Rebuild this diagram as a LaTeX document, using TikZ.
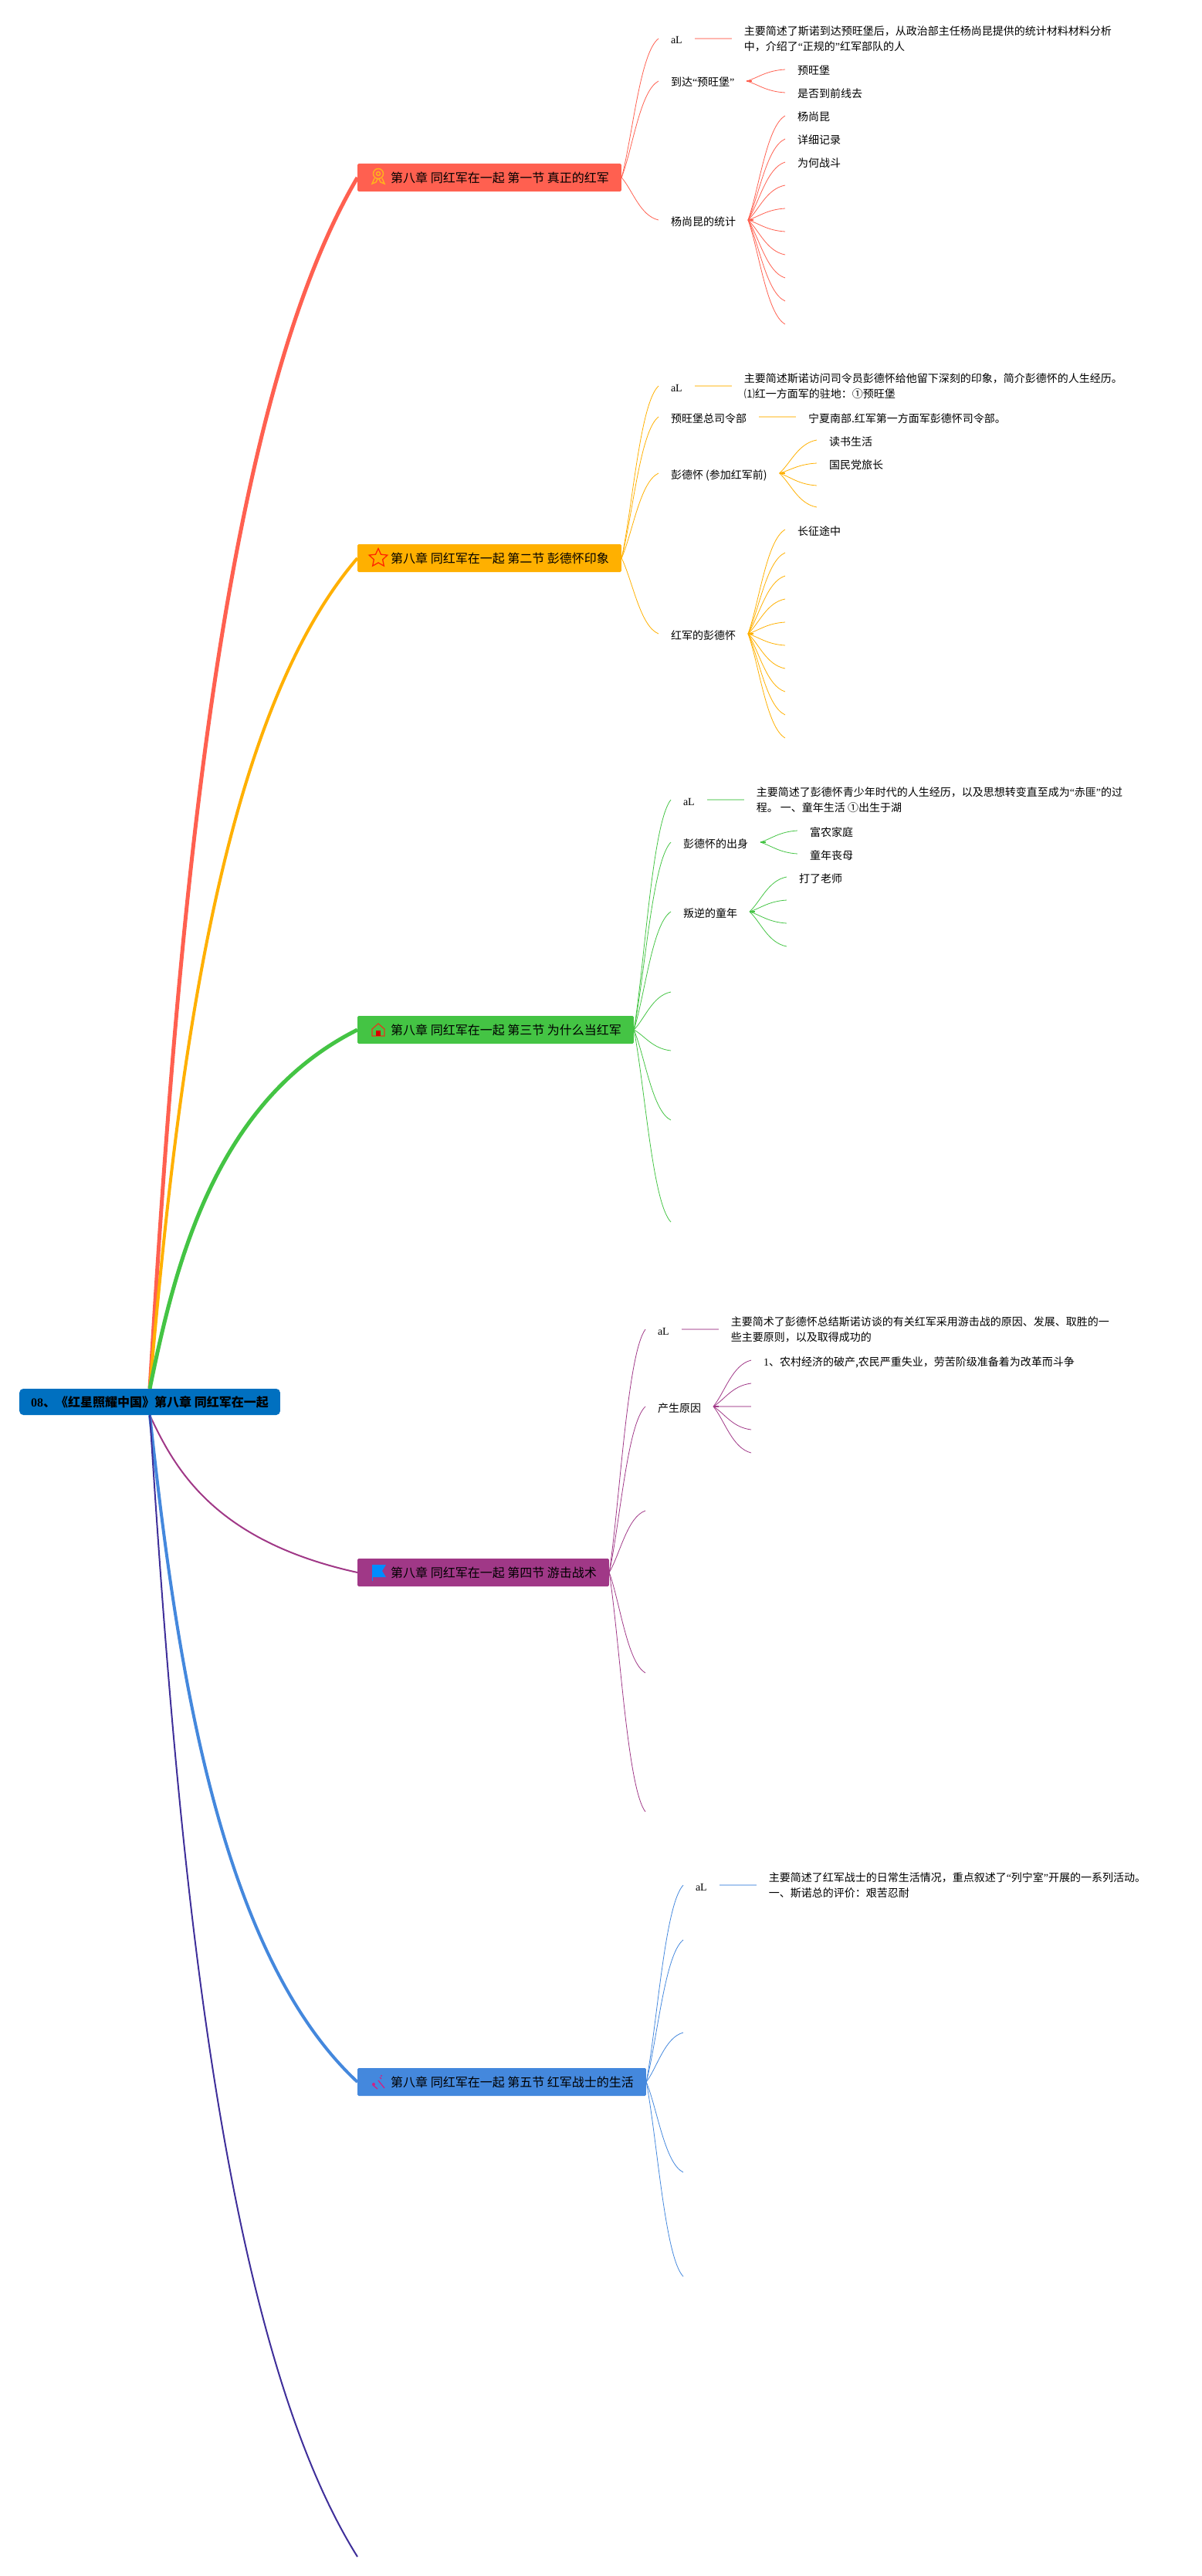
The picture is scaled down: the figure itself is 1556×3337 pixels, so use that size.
\documentclass[tikz,border=0pt]{standalone}
\usepackage{fontspec}
\setmainfont{Liberation Serif}
\newfontfamily\cjk{Noto Sans CJK SC}
\usetikzlibrary{calc,positioning,shapes.geometric}

\definecolor{rootblue}{RGB}{0,112,192}
\definecolor{tonea}{RGB}{255,96,80}
\definecolor{toneb}{RGB}{255,176,0}
\definecolor{tonec}{RGB}{68,196,68}
\definecolor{toned}{RGB}{160,56,135}
\definecolor{tonee}{RGB}{68,136,221}
\definecolor{tonef}{RGB}{63,47,154}
\definecolor{rosette}{RGB}{255,176,30}
\newcommand{\lat}[1]{{\rmfamily #1}}

\tikzset{
  bough/.style={to path={let \p1=(\tikztostart),\p2=(\tikztotarget) in
    .. controls (\x1+.12*\x2-.12*\x1,\y1+.34*\y2-.34*\y1)
    and (\x1+.31*\x2-.31*\x1,\y1+.8*\y2-.8*\y1) .. (\tikztotarget)}},
  twig/.style={to path={let \p1=(\tikztostart),\p2=(\tikztotarget) in
    .. controls (\x1+.3*\x2-.3*\x1,\y1+.3*\y2-.3*\y1)
    and (\x1+.5*\x2-.5*\x1,\y1+.9*\y2-.9*\y1) .. (\tikztotarget)}},
  rootbox/.style={anchor=west,fill=rootblue,rounded corners=5pt,inner xsep=15pt,
    minimum height=34pt,font=\fontsize{16}{20}\selectfont\cjk\bfseries},
  topic/.style={anchor=west,rounded corners=1.5pt,inner xsep=16pt,inner ysep=0pt,
    minimum height=36pt,text=black,font=\fontsize{16}{20}\selectfont\cjk,
    execute at begin node=\hspace*{27pt}},
  leaf/.style={anchor=west,inner sep=0pt,outer xsep=16pt,text=black,
    text height=14pt,text depth=0pt,font=\fontsize{14}{20}\selectfont\cjk},
  longtext/.style={anchor=west,inner sep=0pt,outer xsep=16pt,text=black,align=left,
    font=\fontsize{14}{20}\selectfont\cjk},
  rule/.style={line width=2pt,draw opacity=.45},
  stub/.style={line width=2pt},
  every edge/.append style={line width=.8pt}
}

\begin{document}
\begin{tikzpicture}[x=1pt,y=-1pt]
  \useasboundingbox (0,0) rectangle (1556,3337);

  \node[rootbox] (root) at (25,1816) {\lat{\textbf{08}}、《红星照耀中国》第八章 同红军在一起};
  \node[topic,fill=tonea] (ta) at (463,230) {第八章 同红军在一起 第一节 真正的红军};
  \node[topic,fill=toneb] (tb) at (463,723) {第八章 同红军在一起 第二节 彭德怀印象};
  \node[topic,fill=tonec] (tc) at (463,1334) {第八章 同红军在一起 第三节 为什么当红军};
  \node[topic,fill=toned] (td) at (463,2037) {第八章 同红军在一起 第四节 游击战术};
  \node[topic,fill=tonee] (te) at (463,2697) {第八章 同红军在一起 第五节 红军战士的生活};
  \coordinate (tf) at (463,3312);

  \path (root.north) edge[bough,tonea,line width=5pt] (ta.west)
        (root.north) edge[bough,toneb,line width=4pt] (tb.west)
        (root.north) edge[bough,tonec,line width=5pt] (tc.west)
        (root.south) edge[bough,toned,line width=2pt] (td.west)
        (root.south) edge[bough,tonee,line width=4pt] (te.west)
        (root.south) edge[bough,tonef,line width=2pt] (tf);

  % icons
  \draw[rosette,line width=1.5pt] (490,225) circle (6.5) (490,225) circle (2.5)
    (485,231) -- (482,238) -- (487,236) -- (489,232) (495,231) -- (498,238) -- (493,236) -- (491,232);
  \node[star,star points=5,star point ratio=2.1,draw=red!70!orange,line width=1.3pt,
    minimum size=25pt,inner sep=0pt] (tbstar) at (490,723) {};
  \draw[red!55!brown,line width=1.2pt] (482,1333) -- (490,1326) -- (498,1333) -- (498,1342) -- (482,1342) -- cycle;
  \fill[red!85!black] (487,1342) rectangle (493,1335);
  \fill[blue!45!cyan] (482,2027) -- (500,2027) -- (495,2035) -- (500,2043) -- (482,2043) -- cycle;
  \draw[blue!45!cyan] (482,2027) -- (482,2048);
  \draw[magenta!85!black,line width=1.3pt] (490,2695) -- (498,2705) (483,2701) -- (489,2706) (492,2691) -- (494,2693);
  \fill[magenta!85!black] (484,2700) circle (2) (494,2689) circle (1.2);

  % first section
  \begin{scope}[color=tonea]
    \node[leaf] (aa) at (853,50) {\lat{aL}};
    \node[leaf] (ab) at (853,105) {到达\lat{“}预旺堡\lat{”}};
    \node[leaf] (ac) at (853,285) {杨尚昆的统计};
    \node[longtext,right=48pt of aa] (aatext) {主要简述了斯诺到达预旺堡后，从政治部主任杨尚昆提供的统计材料材料分析\\中，介绍了\lat{“}正规的\lat{”}红军部队的人};
    \node[leaf] (ab1) at (1017,90) {预旺堡};
    \node[leaf] (ab2) at (1017,120) {是否到前线去};
    \node[leaf] (ac1) at (1017,150) {杨尚昆};
    \node[leaf] (ac2) at (1017,180) {详细记录};
    \node[leaf] (ac3) at (1017,210) {为何战斗};
    \path (ta.east) edge[twig] (aa.west) (ta.east) edge[twig] (ab.west) (ta.east) edge[twig] (ac.west)
          (ab.east) edge[twig] (ab1.west) (ab.east) edge[twig] (ab2.west)
          (ac.east) edge[twig] (ac1.west) (ac.east) edge[twig] (ac2.west) (ac.east) edge[twig] (ac3.west);
    \foreach \h in {240,270,...,420}{
      \coordinate (ac\h) at (1017,\h);
      \path (ac.east) edge[twig] (ac\h);
    }
    \draw[rule] (aa.east) -- (aatext.west);
    \draw[stub] (ab.east) -- ++(7,0) (ac.east) -- ++(7,0);
  \end{scope}

  % second section
  \begin{scope}[color=toneb]
    \node[leaf] (ba) at (853,500) {\lat{aL}};
    \node[leaf] (bb) at (853,540) {预旺堡总司令部};
    \node[leaf] (bc) at (853,613) {彭德怀 (参加红军前)};
    \node[leaf] (bd) at (853,821) {红军的彭德怀};
    \node[longtext,right=48pt of ba] (batext) {主要简述斯诺访问司令员彭德怀给他留下深刻的印象，简介彭德怀的人生经历。\\⑴红一方面军的驻地：①预旺堡};
    \node[leaf,right=48pt of bb] (bbtext) {宁夏南部.红军第一方面军彭德怀司令部。};
    \node[leaf] (bc1) at (1058,570) {读书生活};
    \node[leaf] (bc2) at (1058,600) {国民党旅长};
    \node[leaf] (bd1) at (1017,686) {长征途中};
    \path (tb.east) edge[twig] (ba.west) (tb.east) edge[twig] (bb.west) (tb.east) edge[twig] (bc.west) (tb.east) edge[twig] (bd.west)
          (bc.east) edge[twig] (bc1.west) (bc.east) edge[twig] (bc2.west) (bd.east) edge[twig] (bd1.west);
    \foreach \h in {629,657}{
      \coordinate (bc\h) at (1058,\h);
      \path (bc.east) edge[twig] (bc\h);
    }
    \foreach \h in {716,746,...,956}{
      \coordinate (bd\h) at (1017,\h);
      \path (bd.east) edge[twig] (bd\h);
    }
    \draw[rule] (ba.east) -- (batext.west) (bb.east) -- (bbtext.west);
    \draw[stub] (bc.east) -- ++(7,0) (bd.east) -- ++(7,0);
  \end{scope}

  % third section
  \begin{scope}[color=tonec]
    \node[leaf] (ca) at (869,1036) {\lat{aL}};
    \node[leaf] (cb) at (869,1091) {彭德怀的出身};
    \node[leaf] (cc) at (869,1181) {叛逆的童年};
    \node[longtext,right=48pt of ca] (catext) {主要简述了彭德怀青少年时代的人生经历，以及思想转变直至成为\lat{“}赤匪\lat{”}的过\\程。 一、童年生活 ①出生于湖};
    \node[leaf] (cb1) at (1033,1076) {富农家庭};
    \node[leaf] (cb2) at (1033,1106) {童年丧母};
    \node[leaf] (cc1) at (1019,1136) {打了老师};
    \path (tc.east) edge[twig] (ca.west) (tc.east) edge[twig] (cb.west) (tc.east) edge[twig] (cc.west)
          (cb.east) edge[twig] (cb1.west) (cb.east) edge[twig] (cb2.west) (cc.east) edge[twig] (cc1.west);
    \foreach \h in {1166,1196,1226}{
      \coordinate (cc\h) at (1019,\h);
      \path (cc.east) edge[twig] (cc\h);
    }
    \foreach \h in {1285,1361,1451,1583}{
      \coordinate (c\h) at (869,\h);
      \path (tc.east) edge[twig] (c\h);
    }
    \draw[rule] (ca.east) -- (catext.west);
    \draw[stub] (cb.east) -- ++(7,0) (cc.east) -- ++(7,0);
  \end{scope}

  % fourth section
  \begin{scope}[color=toned]
    \node[leaf] (da) at (836,1722) {\lat{aL}};
    \node[leaf] (db) at (836,1822) {产生原因};
    \node[longtext,right=48pt of da] (datext) {主要简术了彭德怀总结斯诺访谈的有关红军采用游击战的原因、发展、取胜的一\\些主要原则，以及取得成功的};
    \node[leaf] (db1) at (973,1762) {\lat{1}、农村经济的破产,农民严重失业，劳苦阶级准备着为改革而斗争};
    \coordinate (db3) at (973,1822);
    \path (td.east) edge[twig] (da.west) (td.east) edge[twig] (db.west) (db.east) edge[twig] (db1.west);
    \foreach \h in {1792,1852,1882}{
      \coordinate (db\h) at (973,\h);
      \path (db.east) edge[twig] (db\h);
    }
    \foreach \h in {1957,2167,2347}{
      \coordinate (d\h) at (836,\h);
      \path (td.east) edge[twig] (d\h);
    }
    \draw[rule] (da.east) -- (datext.west) (db.east) -- (db3);
    \draw[stub] (db.east) -- ++(7,0);
  \end{scope}

  % fifth section
  \begin{scope}[color=tonee]
    \node[leaf] (ea) at (885,2442) {\lat{aL}};
    \node[longtext,right=48pt of ea] (eatext) {主要简述了红军战士的日常生活情况，重点叙述了\lat{“}列宁室\lat{”}开展的一系列活动。\\一、斯诺总的评价：艰苦忍耐};
    \path (te.east) edge[twig] (ea.west);
    \foreach \h in {2513,2633,2814,2949}{
      \coordinate (e\h) at (885,\h);
      \path (te.east) edge[twig] (e\h);
    }
    \draw[rule] (ea.east) -- (eatext.west);
  \end{scope}
\end{tikzpicture}
\end{document}
